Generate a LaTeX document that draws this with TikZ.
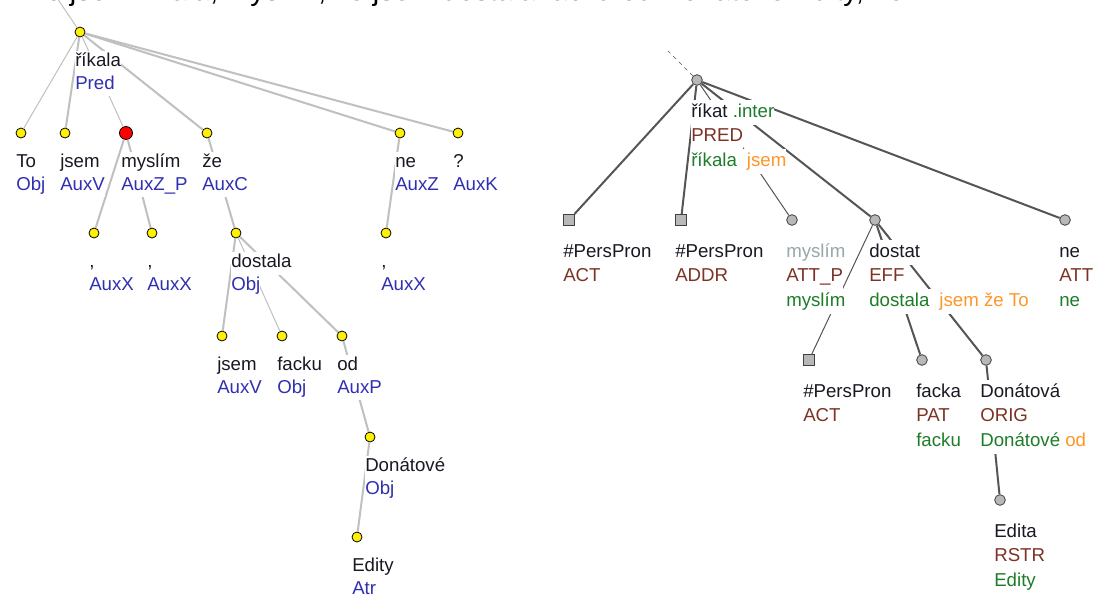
\documentclass[tikz,border=0pt]{standalone}
\usepackage{fontspec}
\setmainfont{Liberation Sans}
\usepackage{xcolor}
\usepackage{tikz}
\usetikzlibrary{calc}

\definecolor{atag}{RGB}{48,48,176}
\definecolor{aline}{RGB}{192,192,192}
\definecolor{tline}{RGB}{85,85,85}
\definecolor{tfill}{RGB}{184,184,184}
\definecolor{tdraw}{RGB}{64,64,64}
\definecolor{tfun}{RGB}{125,50,35}
\definecolor{tgrn}{RGB}{30,125,40}
\definecolor{torg}{RGB}{255,150,40}
\definecolor{tgry}{RGB}{150,168,168}
\definecolor{word}{RGB}{25,25,35}

% one label line on its own white strip
\newcommand{\wl}[1]{{\setlength{\fboxsep}{0pt}\colorbox{white}{\strut #1}}}

\begin{document}
\begin{tikzpicture}[
    x=0.75pt, y=-0.75pt,
    anode/.style={circle, draw=black, line width=0.6pt, fill=yellow, minimum size=7.5pt, inner sep=0pt},
    redn/.style={anode, fill=red, minimum size=9.75pt},
    tnode/.style={circle, draw=tdraw, line width=0.6pt, fill=tfill, minimum size=8pt, inner sep=0pt},
    tsq/.style={rectangle, draw=tdraw, line width=0.6pt, fill=tfill, minimum size=8.5pt, inner sep=0pt},
    alab/.style={anchor=north west, inner sep=0pt, align=left, text=word, font=\fontsize{14}{16.8}\selectfont},
    tlab/.style={anchor=north west, inner sep=0pt, align=left, text=word, font=\fontsize{14}{18.4}\selectfont},
    aedge/.style={aline, line width=1.5pt},
    athin/.style={aline, line width=0.75pt},
    tedge/.style={tline, line width=1.5pt},
    tthin/.style={tline, line width=0.75pt},
]
    \fill[white] (0,0) rectangle (1093,597);
    \useasboundingbox (0,0) rectangle (1093,597);
    \clip (0,0) rectangle (1093,597);

    \node[anchor=base west, inner sep=0pt, font=\fontsize{21.75}{26}\selectfont] (sent) at (31,0.5) {To jsem říkala, myslím, že jsem dostala facku od Donátové Edity, ne?};

    % analytical tree
    \node[anode] (a-root) at (80,32) {};
    \node[anode] (a-to) at (21,133) {};
    \node[anode] (a-jsem) at (65,133) {};
    \node[redn] (a-mysl) at (126,133) {};
    \node[anode] (a-ze) at (207,133) {};
    \node[anode] (a-ne) at (400,133) {};
    \node[anode] (a-q) at (458,133) {};
    \node[anode] (a-c1) at (94,233) {};
    \node[anode] (a-c2) at (152,233) {};
    \node[anode] (a-dost) at (236,233) {};
    \node[anode] (a-c3) at (386,233) {};
    \node[anode] (a-jsem2) at (222,336) {};
    \node[anode] (a-facku) at (282,336) {};
    \node[anode] (a-od) at (342,336) {};
    \node[anode] (a-don) at (370,437) {};
    \node[anode] (a-edity) at (357,537) {};
    \coordinate (a-up) at (57,-2);

    \draw[athin] (a-root) -- (a-up);
    \draw[athin] (a-root) -- (a-to);
    \draw[aedge] (a-root) -- (a-jsem);
    \draw[athin] (a-root) -- (a-mysl);
    \draw[aedge] (a-root) -- (a-ze);
    \draw[aedge] (a-root) -- (a-ne);
    \draw[aedge] (a-root) -- (a-q);
    \draw[aedge] (a-mysl) -- (a-c1);
    \draw[aedge] (a-mysl) -- (a-c2);
    \draw[aedge] (a-ze) -- (a-dost);
    \draw[aedge] (a-ne) -- (a-c3);
    \draw[aedge] (a-dost) -- (a-jsem2);
    \draw[athin] (a-dost) -- (a-facku);
    \draw[aedge] (a-dost) -- (a-od);
    \draw[aedge] (a-od) -- (a-don);
    \draw[aedge] (a-don) -- (a-edity);

    \node[alab] (a-root-l) at ($(a-root)+(-5,19)$) {\wl{říkala}\\\wl{\textcolor{atag}{Pred}}};
    \node[alab] (a-to-l) at ($(a-to)+(-5,19)$) {\wl{To}\\\wl{\textcolor{atag}{Obj}}};
    \node[alab] (a-jsem-l) at ($(a-jsem)+(-5,19)$) {\wl{jsem}\\\wl{\textcolor{atag}{AuxV}}};
    \node[alab] (a-mysl-l) at ($(a-mysl)+(-5,19)$) {\wl{myslím}\\\wl{\textcolor{atag}{AuxZ\_P}}};
    \node[alab] (a-ze-l) at ($(a-ze)+(-5,19)$) {\wl{že}\\\wl{\textcolor{atag}{AuxC}}};
    \node[alab] (a-ne-l) at ($(a-ne)+(-5,19)$) {\wl{ne}\\\wl{\textcolor{atag}{AuxZ}}};
    \node[alab] (a-q-l) at ($(a-q)+(-5,19)$) {\wl{?}\\\wl{\textcolor{atag}{AuxK}}};
    \node[alab] (a-c1-l) at ($(a-c1)+(-5,19)$) {\wl{,}\\\wl{\textcolor{atag}{AuxX}}};
    \node[alab] (a-c2-l) at ($(a-c2)+(-5,19)$) {\wl{,}\\\wl{\textcolor{atag}{AuxX}}};
    \node[alab] (a-dost-l) at ($(a-dost)+(-5,19)$) {\wl{dostala}\\\wl{\textcolor{atag}{Obj}}};
    \node[alab] (a-c3-l) at ($(a-c3)+(-5,19)$) {\wl{,}\\\wl{\textcolor{atag}{AuxX}}};
    \node[alab] (a-jsem2-l) at ($(a-jsem2)+(-5,19)$) {\wl{jsem}\\\wl{\textcolor{atag}{AuxV}}};
    \node[alab] (a-facku-l) at ($(a-facku)+(-5,19)$) {\wl{facku}\\\wl{\textcolor{atag}{Obj}}};
    \node[alab] (a-od-l) at ($(a-od)+(-5,19)$) {\wl{od}\\\wl{\textcolor{atag}{AuxP}}};
    \node[alab] (a-don-l) at ($(a-don)+(-5,19)$) {\wl{Donátové}\\\wl{\textcolor{atag}{Obj}}};
    \node[alab] (a-edity-l) at ($(a-edity)+(-5,19)$) {\wl{Edity}\\\wl{\textcolor{atag}{Atr}}};

    % tectogrammatical tree
    \node[tnode] (t-root) at (697,80) {};
    \node[tsq] (t-act) at (569,220) {};
    \node[tsq] (t-addr) at (681,220) {};
    \node[tnode] (t-mysl) at (792,220) {};
    \node[tnode] (t-dost) at (875,220) {};
    \node[tnode] (t-ne) at (1065,220) {};
    \node[tsq] (t-act2) at (809,360) {};
    \node[tnode] (t-facka) at (922,360) {};
    \node[tnode] (t-don) at (986,360) {};
    \node[tnode] (t-edita) at (1000,500) {};
    \coordinate (t-up) at (668,51);

    \draw[tline, line width=0.5pt, dashed] (t-root) -- (t-up);
    \draw[tedge] (t-root) -- (t-act);
    \draw[tedge] (t-root) -- (t-addr);
    \draw[tthin] (t-root) -- (t-mysl);
    \draw[tedge] (t-root) -- (t-dost);
    \draw[tedge] (t-root) -- (t-ne);
    \draw[tthin] (t-dost) -- (t-act2);
    \draw[tedge] (t-dost) -- (t-facka);
    \draw[tedge] (t-dost) -- (t-don);
    \draw[tedge] (t-don) -- (t-edita);

    \node[tlab] (t-root-l) at ($(t-root)+(-6,20)$) {\wl{říkat \textcolor{tgrn}{.inter}}\\\wl{\textcolor{tfun}{PRED}}\\\wl{\textcolor{tgrn}{říkala}\hspace{7.5pt}\textcolor{torg}{jsem}}};
    \node[tlab] (t-act-l) at ($(t-act)+(-6,20)$) {\wl{\#PersPron}\\\wl{\textcolor{tfun}{ACT}}};
    \node[tlab] (t-addr-l) at ($(t-addr)+(-6,20)$) {\wl{\#PersPron}\\\wl{\textcolor{tfun}{ADDR}}};
    \node[tlab] (t-mysl-l) at ($(t-mysl)+(-6,20)$) {\wl{\textcolor{tgry}{myslím}}\\\wl{\textcolor{tfun}{ATT\_P}}\\\wl{\textcolor{tgrn}{myslím}}};
    \node[tlab] (t-dost-l) at ($(t-dost)+(-6,20)$) {\wl{dostat}\\\wl{\textcolor{tfun}{EFF}}\\\wl{\textcolor{tgrn}{dostala}\hspace{7.5pt}\textcolor{torg}{jsem že To}}};
    \node[tlab] (t-ne-l) at ($(t-ne)+(-6,20)$) {\wl{ne}\\\wl{\textcolor{tfun}{ATT}}\\\wl{\textcolor{tgrn}{ne}}};
    \node[tlab] (t-act2-l) at ($(t-act2)+(-6,20)$) {\wl{\#PersPron}\\\wl{\textcolor{tfun}{ACT}}};
    \node[tlab] (t-facka-l) at ($(t-facka)+(-6,20)$) {\wl{facka}\\\wl{\textcolor{tfun}{PAT}}\\\wl{\textcolor{tgrn}{facku}}};
    \node[tlab] (t-don-l) at ($(t-don)+(-6,20)$) {\wl{Donátová}\\\wl{\textcolor{tfun}{ORIG}}\\\wl{\textcolor{tgrn}{Donátové} \textcolor{torg}{od}}};
    \node[tlab] (t-edita-l) at ($(t-edita)+(-6,20)$) {\wl{Edita}\\\wl{\textcolor{tfun}{RSTR}}\\\wl{\textcolor{tgrn}{Edity}}};
\end{tikzpicture}
\end{document}
